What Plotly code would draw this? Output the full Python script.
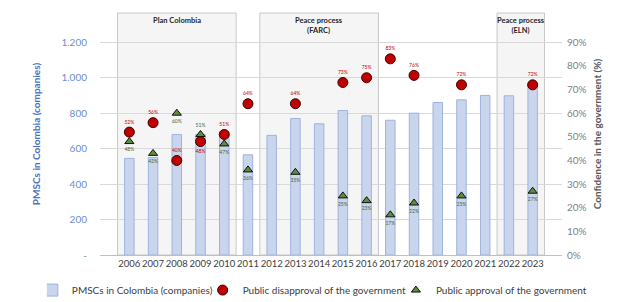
import plotly.graph_objects as go

years = [str(y) for y in range(2006, 2024)]
pmscs = [545, 550, 680, 680, 695, 565, 675, 770, 740, 815, 785, 760, 800, 860, 875, 900, 898, 962]
disapproval = [52, 56, 40, 48, 51, 64, None, 64, None, 73, 75, 83, 76, None, 72, None, None, 72]
approval = [48, 43, 60, 51, 47, 36, None, 35, None, 25, 23, 17, 22, None, 25, None, None, 27]
left_ticks = [0, 200, 400, 600, 800, 1000, 1200]
left_tick_text = ["-", "200", "400", "600", "800", "1.000", "1.200"]
right_ticks = [0, 10, 20, 30, 40, 50, 60, 70, 80, 90]
periods = [("Plan Colombia", "2006", "2010"), ("Peace process<br>(FARC)", "2012", "2016"),
           ("Peace process<br>(ELN)", "2022", "2023")]

dis_pos = ["top center"] * 18
dis_pos[3] = "bottom center"
app_pos = ["bottom center"] * 18
app_pos[3] = "top center"

FONT = "Lato, Open Sans, sans-serif"

fig = go.Figure()
fig.add_trace(go.Bar(
    x=years, y=pmscs, name="PMSCs in Colombia (companies)", width=0.4,
    marker=dict(color="#c9d5ed", line=dict(color="#9fb3dc", width=1)),
    yaxis="y"))
fig.add_trace(go.Scatter(
    x=years, y=disapproval, name="Public disapproval of the government",
    mode="markers+text", yaxis="y2",
    text=[f"{v}%" if v is not None else "" for v in disapproval],
    textposition=dis_pos, textfont=dict(size=5, color="#c00000", family=FONT),
    marker=dict(symbol="circle", size=10, color="#c00000", line=dict(color="#3a0000", width=1))))
fig.add_trace(go.Scatter(
    x=years, y=approval, name="Public approval of the government",
    mode="markers+text", yaxis="y2",
    text=[f"{v}%" if v is not None else "" for v in approval],
    textposition=app_pos, textfont=dict(size=5, color="#4a5d3a", family=FONT),
    marker=dict(symbol="triangle-up", size=8, color="#5e8c3a", line=dict(color="#101010", width=1))))

idx = {y: i for i, y in enumerate(years)}
for label, a, b in periods:
    x0 = idx[a] - 0.5
    x1 = idx[b] + 0.5
    fig.add_shape(type="rect", xref="x", yref="paper", x0=x0, x1=x1, y0=0, y1=1,
                  fillcolor="#f5f5f5", line=dict(color="#c8c8c8", width=1), layer="below")
    fig.add_annotation(x=(x0 + x1) / 2, xref="x", y=0.995, yref="paper", text=f"<b>{label}</b>",
                       showarrow=False, yanchor="top", font=dict(size=7.5, color="#262626", family=FONT))

fig.update_layout(
    width=643, height=302,
    margin=dict(l=92, r=89, t=5, b=50),
    paper_bgcolor="white", plot_bgcolor="rgba(0,0,0,0)",
    font=dict(family=FONT),
    bargap=0.6,
    showlegend=True,
    legend=dict(orientation="h", x=-0.115, xanchor="left",
                y=-0.145, yanchor="middle", itemwidth=30, indentation=-15,
                font=dict(size=10, color="#404040"), tracegroupgap=0,
                bgcolor="rgba(0,0,0,0)"),
    xaxis=dict(type="category", tickfont=dict(size=9.5, color="#404040"), showgrid=False,
               tickangle=0, showline=True, linecolor="#bfbfbf", ticks=""),
    yaxis=dict(range=[0, 1365], tickvals=left_ticks, ticktext=left_tick_text,
               tickfont=dict(size=10, color="#6f8ccb"), showgrid=True, gridcolor="#d9d9d9",
               zeroline=False, showline=False, ticklabelstandoff=12,
               title=dict(text="<b>PMSCs in Colombia (companies)</b>", font=dict(size=10, color="#4f72bf"), standoff=18)),
    yaxis2=dict(range=[0, 102.4], overlaying="y", side="right", tickvals=right_ticks,
                ticktext=[f"{v}%" for v in right_ticks], tickfont=dict(size=10, color="#7f7f7f"),
                showgrid=False, zeroline=False, ticklabelstandoff=4,
                title=dict(text="<b>Confidence in the government (%)</b>", font=dict(size=10, color="#595959"), standoff=8)),
)

fig.write_html("out.html")
